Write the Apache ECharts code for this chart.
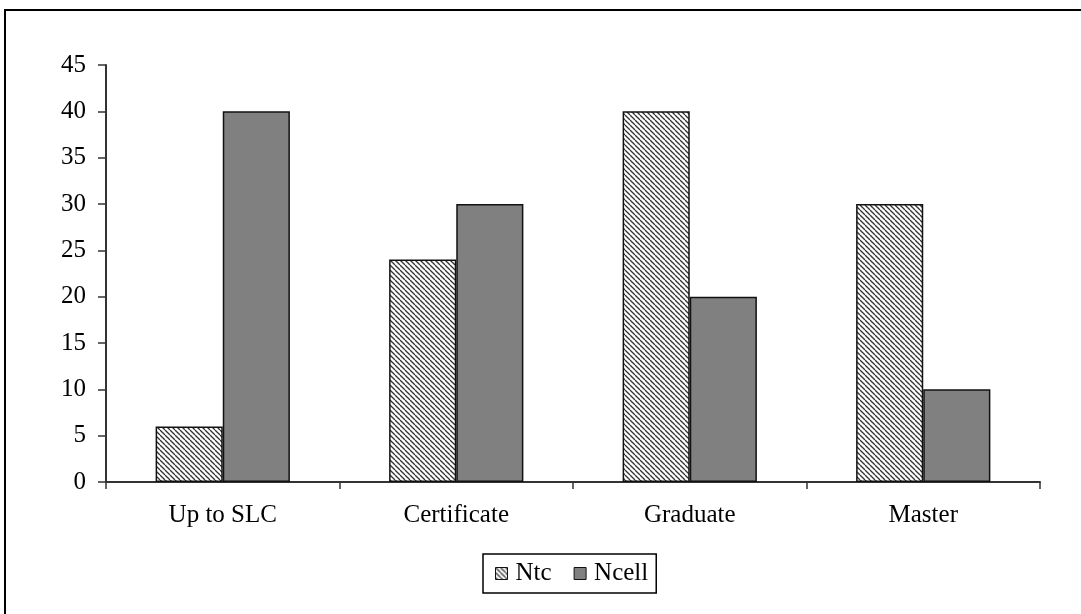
<!DOCTYPE html>
<html>
<head>
<meta charset="utf-8">
<script src="https://cdn.jsdelivr.net/npm/echarts@6/dist/echarts.min.js"></script>
<style>html,body{margin:0;padding:0;background:#fff;}#c{width:1081px;height:614px;}</style>
</head>
<body>
<div id="c"></div>
<script>
var categories = ['Up to SLC', 'Certificate', 'Graduate', 'Master'];
var ntcValues = [6, 24, 40, 30];
var ncellValues = [40, 30, 20, 10];
var yTicks = [0, 5, 10, 15, 20, 25, 30, 35, 40, 45];

function hatch() {
  var n = 5;
  var cv = document.createElement('canvas');
  cv.width = n; cv.height = n;
  var ctx = cv.getContext('2d');
  ctx.fillStyle = '#fff';
  ctx.fillRect(0, 0, n, n);
  ctx.strokeStyle = '#333';
  ctx.lineWidth = 1.3;
  for (var k = -1; k <= 1; k++) {
    ctx.beginPath();
    ctx.moveTo(0 + k * n, 0);
    ctx.lineTo(n + k * n, n);
    ctx.stroke();
  }
  return cv;
}

var chart = echarts.init(document.getElementById('c'), null, {renderer: 'canvas'});
var font = 'Liberation Serif';
chart.setOption({
  animation: false,
  backgroundColor: '#fff',
  graphic: [{
    type: 'rect', shape: {x: 5, y: 10, width: 1200, height: 800},
    style: {fill: 'none', stroke: '#000', lineWidth: 2}, silent: true
  }],
  grid: {left: 106, right: 41, top: 65, bottom: 132},
  legend: {
    data: ['Ntc', 'Ncell'],
    left: 483, top: 554,
    itemWidth: 12, itemHeight: 12, itemGap: 22,
    padding: [7, 8, 7, 12],
    borderColor: '#000', borderWidth: 1.5,
    icon: 'rect',
    itemStyle: {borderColor: '#111', borderWidth: 1},
    textStyle: {fontFamily: font, fontSize: 25, color: '#000', padding: [0, 0, 0, 3]}
  },
  xAxis: {
    type: 'category', data: categories,
    axisLine: {lineStyle: {color: '#333', width: 2}},
    axisTick: {show: true, length: 7, lineStyle: {color: '#333', width: 1.5}, alignWithLabel: false},
    axisLabel: {fontFamily: font, fontSize: 25, color: '#000', margin: 21}
  },
  yAxis: {
    type: 'value', min: 0, max: 45, interval: 5,
    axisLine: {show: true, lineStyle: {color: '#333', width: 2}},
    axisTick: {show: true, length: 8, lineStyle: {color: '#333', width: 1.5}},
    splitLine: {show: false},
    axisLabel: {fontFamily: font, fontSize: 25, color: '#000', margin: 20,
      formatter: function (v) { return yTicks.indexOf(v) >= 0 ? String(v) : ''; }}
  },
  series: [
    {name: 'Ntc', type: 'bar', data: ntcValues, barGap: '0%', barCategoryGap: '42.5%',
     itemStyle: {color: {image: hatch(), repeat: 'repeat'}, borderColor: '#111', borderWidth: 1.5}},
    {name: 'Ncell', type: 'bar', data: ncellValues, barGap: '0%', barCategoryGap: '42.5%',
     itemStyle: {color: '#808080', borderColor: '#111', borderWidth: 1.5}}
  ]
});
</script>
</body>
</html>
